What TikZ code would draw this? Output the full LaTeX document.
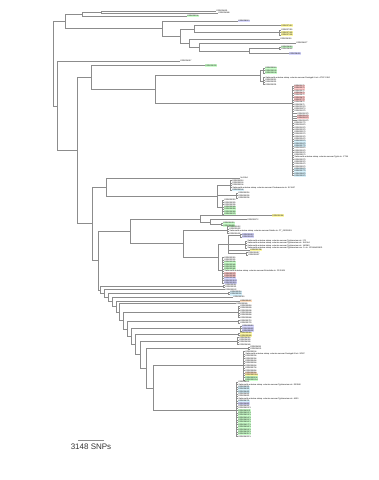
\documentclass[tikz,border=0pt]{standalone}
\usepackage{fontspec}
\setmainfont{Liberation Sans}
\begin{document}
\begin{tikzpicture}[x=1pt,y=-1pt,
  br/.style={draw=black!45,line width=0.5pt},
  lf/.style={anchor=west,inner sep=0.5pt,font=\fontsize{2}{2.2}\selectfont},
  pl/.style={},
  gn/.style={fill=green!20},
  bl/.style={fill=blue!15},
  yl/.style={fill=yellow!35},
  rd/.style={fill=red!20},
  cy/.style={fill=cyan!15},
  og/.style={fill=orange!25}]
\useasboundingbox (0,0) rectangle (379,480);
% root and upper clade
\coordinate (r) at (53,64);
\coordinate (t1) at (65,21.2);
\coordinate (t2) at (57,106.5);
\draw[br] (r) |- (t1); \draw[br] (r) |- (t2);
\coordinate (ta) at (82,14);
\coordinate (tb) at (162,28.4);
\draw[br] (t1) |- (ta); \draw[br] (t1) |- (tb);
\coordinate (tc) at (101,12);
\draw[br] (ta) |- (tc);
\node[lf] (l2) at (216,10.8) {ERR024631};
\node[lf] (l3) at (218,13.2) {ERR024588};
\draw[br] (tc) |- (l2.west); \draw[br] (tc) |- (l3.west);
\node[lf,gn] (l1) at (187,16) {ERR025104};
\draw[br] (ta) |- (l1.west);
\node[lf,bl] (l4) at (238,21) {ERR028113};
\draw[br] (tb) |- (l4.west);
\coordinate (td) at (180,35.9);
\draw[br] (tb) |- (td);
\coordinate (te) at (194,29);
\coordinate (tf) at (189,42.75);
\draw[br] (td) |- (te); \draw[br] (td) |- (tf);
\node[lf,yl] (l5) at (281,25.5) {ERR027412};
\draw[br] (te) |- (l5.west);
\coordinate (tg) at (279,32.5);
\draw[br] (te) |- (tg);
\foreach \y/\s [count=\i] in {30.2/pl,32.5/yl,34.8/yl}{
  \node[lf,\s] (tg\i) at (281,\y) {ERR0273\i5};
  \draw[br] (tg) |- (tg\i.west);}
\node[lf] (l6) at (280,39) {ERR026019};
\draw[br] (tf) |- (l6.west);
\coordinate (th) at (199,46.75);
\draw[br] (tf) |- (th);
\node[lf] (l7) at (296,43) {ERR026877};
\draw[br] (th) |- (l7.west);
\coordinate (ti) at (249,50.75);
\draw[br] (th) |- (ti);
\coordinate (tj) at (279,48);
\draw[br] (ti) |- (tj);
\foreach \y/\s [count=\i] in {46.9/gn,49.2/pl}{
  \node[lf,\s] (tj\i) at (281,\y) {ERR0269\i2};
  \draw[br] (tj) |- (tj\i.west);}
\node[lf,bl] (l8) at (289,53.5) {ERR028450};
\draw[br] (ti) |- (l8.west);
% lower clade
\node[lf] (l9) at (180,61) {ERR024917};
\draw[br] (t2) |- (l9.west);
\coordinate (u1) at (77,150.4);
\draw[br] (t2) |- (u1);
\coordinate (u2) at (91,77.6);
\coordinate (u3) at (92,223.5);
\draw[br] (u1) |- (u2); \draw[br] (u1) |- (u3);
\node[lf,gn] (l10) at (205,65.5) {ERR025233};
\draw[br] (u2) |- (l10.west);
\coordinate (u4) at (155,89.7);
\draw[br] (u2) |- (u4);
\coordinate (u5) at (260,75.7);
\coordinate (u6) at (292,103.7);
\draw[br] (u4) |- (u5); \draw[br] (u4) |- (u6);
\coordinate (u7) at (263,70.5);
\coordinate (u8) at (263,80.9);
\draw[br] (u5) |- (u7); \draw[br] (u5) |- (u8);
\foreach \y [count=\i] in {68.2,70.5,72.8}{
  \node[lf,gn] (u7\i) at (265,\y) {ERR0251\i8};
  \draw[br] (u7) |- (u7\i.west);}
\node[lf] (u81) at (265,77.5) {Salmonella enterica subsp. enterica serovar Paratyphi A str. ATCC 9150};
\draw[br] (u8) |- (u81.west);
\foreach \y [count=\i] in {79.8,82.1,84.4}{
  \node[lf] (u8\i x) at (265,\y) {ERR0252\i1};
  \draw[br] (u8) |- (u8\i x.west);}
% typhi comb
\foreach \x/\y/\s [count=\i] in {294/86/rd,294/88.3/rd,294/90.6/pl,294/92.9/rd,294/95.2/pl,
  294/97.5/rd,294/99.8/rd,294/102.1/pl,294/104.4/pl,294/106.7/pl,294/109/pl,294/111.3/pl,
  297/113.6/pl,297/115.9/rd,297/118.2/rd,297/120.5/pl,294/122.8/pl,294/125.1/pl,294/127.4/pl,
  294/129.7/pl,294/132/pl,294/134.3/pl,294/136.6/pl,294/138.9/pl,294/141.2/cy,294/143.5/cy,
  294/145.8/cy,294/148.1/pl,294/150.4/pl,294/152.7/pl,294/155/pl,294/159.6/pl,
  294/161.9/pl,294/164.2/pl,294/166.5/pl,294/168.8/cy,294/171.1/cy,294/173.4/cy,294/175.7/cy}{
  \node[lf,\s] (u6\i) at (\x,\y) {ERR02\i 73};
  \draw[br] (u6) |- (u6\i.west);}
\node[lf] (u6t) at (294,157.3) {Salmonella enterica subsp. enterica serovar Typhi str. CT18};
\draw[br] (u6) |- (u6t.west);
% middle clades
\coordinate (u9) at (106,187);
\coordinate (u10) at (98,260.4);
\draw[br] (u3) |- (u9); \draw[br] (u3) |- (u10);
\node[lf] (l11) at (240,178) {Ni-1094};
\draw[br] (u9) |- (l11.west);
\coordinate (u11) at (217,196);
\draw[br] (u9) |- (u11);
\coordinate (s1) at (230,185.2);
\coordinate (s2) at (236,195.5);
\coordinate (s3) at (222,207);
\draw[br] (u11) |- (s1); \draw[br] (u11) |- (s2); \draw[br] (u11) |- (s3);
\foreach \y/\s [count=\i] in {180.6/pl,182.9/pl,185.2/pl,189.8/cy}{
  \node[lf,\s] (s1\i) at (232,\y) {ERR0301\i4};
  \draw[br] (s1) |- (s1\i.west);}
\node[lf] (s1t) at (232,187.5) {Salmonella enterica subsp. enterica serovar Choleraesuis str. SC-B67};
\draw[br] (s1) |- (s1t.west);
\foreach \y [count=\i] in {193.2,195.5,197.8}{
  \node[lf] (s2\i) at (238,\y) {ERR0302\i6};
  \draw[br] (s2) |- (s2\i.west);}
\foreach \y/\s [count=\i] in {200.1/pl,202.4/pl,204.7/pl,207/gn,209.3/gn,211.6/gn,213.9/gn}{
  \node[lf,\s] (s3\i) at (224,\y) {ERR0303\i9};
  \draw[br] (s3) |- (s3\i.west);}
\coordinate (u12) at (130,231);
\coordinate (u13) at (100,289.8);
\draw[br] (u10) |- (u12); \draw[br] (u10) |- (u13);
\coordinate (u14) at (200,218.75);
\coordinate (u16) at (183,243.5);
\draw[br] (u12) |- (u14); \draw[br] (u12) |- (u16);
\node[lf,yl] (l12) at (272,215.5) {ERR031056};
\draw[br] (u14) |- (l12.west);
\coordinate (u15) at (210,222);
\draw[br] (u14) |- (u15);
\node[lf] (l13) at (247,219.5) {ERR031172};
\draw[br] (u15) |- (l13.west);
\coordinate (u17) at (221,224.5);
\draw[br] (u15) |- (u17);
\foreach \y [count=\i] in {223.3,225.6}{
  \node[lf,gn] (u17\i) at (223,\y) {ERR0312\i0};
  \draw[br] (u17) |- (u17\i.west);}
\coordinate (u18) at (227,229.9);
\coordinate (u19) at (218,257);
\draw[br] (u16) |- (u18); \draw[br] (u16) |- (u19);
\foreach \y [count=\i] in {226.5,228.8,233.4}{
  \node[lf] (u18\i) at (229,\y) {ERR0314\i2};
  \draw[br] (u18) |- (u18\i.west);}
\node[lf] (u18t) at (229,231.1) {Salmonella enterica subsp. enterica serovar Dublin str. CT\_02021853};
\draw[br] (u18) |- (u18t.west);
\coordinate (u20) at (228,244);
\coordinate (u21) at (222,270.15);
\draw[br] (u19) |- (u20); \draw[br] (u19) |- (u21);
\coordinate (v1) at (240,235.6);
\coordinate (v2) at (245,244.5);
\coordinate (v3) at (246,253.6);
\draw[br] (u20) |- (v1); \draw[br] (u20) |- (v2); \draw[br] (u20) |- (v3);
\foreach \y [count=\i] in {234.5,236.8}{
  \node[lf,bl] (v1\i) at (242,\y) {ERR0316\i3};
  \draw[br] (v1) |- (v1\i.west);}
\foreach \y/\t [count=\i] in {241/Typhimurium str. LT2,243.3/Typhimurium str. SL1344,
  245.6/Typhimurium str. 14028S,247.9/Typhimurium var. 5- str. CFSAN001921}{
  \node[lf] (v2\i) at (247,\y) {Salmonella enterica subsp. enterica serovar \t};
  \draw[br] (v2) |- (v2\i.west);}
\node[lf,yl] (l14) at (250,250.2) {ERR031788};
\draw[br] (u20) |- (l14.west);
\foreach \y [count=\i] in {252.5,254.8}{
  \node[lf] (v3\i) at (248,\y) {ERR0318\i7};
  \draw[br] (v3) |- (v3\i.west);}
\foreach \y/\s [count=\i] in {257.5/pl,259.8/pl,262.1/gn,264.4/gn,266.7/gn,269/gn,
  273.6/rd,275.9/rd,278.2/bl,280.5/bl,282.8/bl}{
  \node[lf,\s] (u21\i) at (224,\y) {ERR0320\i5};
  \draw[br] (u21) |- (u21\i.west);}
\node[lf] (u21t) at (224,271.3) {Salmonella enterica subsp. enterica serovar Enteritidis str. P125109};
\draw[br] (u21) |- (u21t.west);
% lower ladder
\coordinate (pb) at (104,293.5);
\coordinate (pc) at (108,297.4);
\coordinate (pd) at (112,301.7);
\coordinate (pe) at (116,306.5);
\coordinate (pf) at (119,312);
\coordinate (pg) at (123,320.4);
\coordinate (ph) at (127,329);
\coordinate (pi) at (131,336.5);
\coordinate (pj) at (135,344.4);
\coordinate (pk) at (140,354.6);
\coordinate (pl) at (146,368);
\coordinate (pm) at (153,388);
\draw[br] (u13) |- (pb); \draw[br] (pb) |- (pc); \draw[br] (pc) |- (pd);
\draw[br] (pd) |- (pe); \draw[br] (pe) |- (pf); \draw[br] (pf) |- (pg);
\draw[br] (pg) |- (ph); \draw[br] (ph) |- (pi); \draw[br] (pi) |- (pj);
\draw[br] (pj) |- (pk); \draw[br] (pk) |- (pl); \draw[br] (pl) |- (pm);
\coordinate (qa) at (223,286.15);
\draw[br] (u13) |- (qa);
\foreach \y [count=\i] in {285,287.3}{
  \node[lf] (qa\i) at (225,\y) {ERR0330\i1};
  \draw[br] (qa) |- (qa\i.west);}
\node[lf] (qb) at (225,289.6) {ERR033122};
\draw[br] (pb) |- (qb.west);
\coordinate (qc) at (228,293.15);
\draw[br] (pc) |- (qc);
\foreach \y [count=\i] in {292,294.3}{
  \node[lf,cy] (qc\i) at (230,\y) {ERR0332\i4};
  \draw[br] (qc) |- (qc\i.west);}
\node[lf] (qd) at (233,297) {ERR033310};
\draw[br] (pd) |- (qd.west);
\node[lf,og] (qe) at (240,301) {ERR033407};
\draw[br] (pe) |- (qe.west);
\node[lf] (qf) at (236,303.5) {ERR033569};
\draw[br] (pf) |- (qf.west);
\coordinate (qg) at (238,311.75);
\draw[br] (pg) |- (qg);
\foreach \y [count=\i] in {306,308.3,310.6,312.9,315.2,317.5}{
  \node[lf] (qg\i) at (240,\y) {ERR0336\i8};
  \draw[br] (qg) |- (qg\i.west);}
\coordinate (qh) at (238,321.65);
\draw[br] (ph) |- (qh);
\foreach \y [count=\i] in {320.5,322.8}{
  \node[lf] (qh\i) at (240,\y) {ERR0337\i3};
  \draw[br] (qh) |- (qh\i.west);}
\coordinate (qi) at (240,328.5);
\draw[br] (pi) |- (qi);
\foreach \y [count=\i] in {326.2,328.5,330.8}{
  \node[lf,bl] (qi\i) at (242,\y) {ERR0338\i2};
  \draw[br] (qi) |- (qi\i.west);}
\coordinate (qj) at (238,334.25);
\draw[br] (pj) |- (qj);
\foreach \y [count=\i] in {333.1,335.4}{
  \node[lf,yl] (qj\i) at (240,\y) {ERR0339\i6};
  \draw[br] (qj) |- (qj\i.west);}
\coordinate (qk) at (237,341.15);
\draw[br] (pk) |- (qk);
\foreach \y [count=\i] in {337.7,340,342.3,344.6}{
  \node[lf] (qk\i) at (239,\y) {ERR0340\i9};
  \draw[br] (qk) |- (qk\i.west);}
\coordinate (ql) at (248,348);
\draw[br] (pl) |- (ql);
\foreach \y [count=\i] in {346.9,349.2}{
  \node[lf] (ql\i) at (250,\y) {ERR0341\i1};
  \draw[br] (ql) |- (ql\i.west);}
\coordinate (qm) at (243,365.7);
\coordinate (qn) at (236,410);
\draw[br] (pm) |- (qm); \draw[br] (pm) |- (qn);
\foreach \y/\s [count=\i] in {351.5/pl,356.2/pl,358.6/pl,361/pl,363.3/pl,365.7/pl,368/pl,
  370.4/pl,372.8/og,375.1/yl,377.5/gn,379.8/gn}{
  \node[lf,\s] (qm\i) at (245,\y) {ERR035\i 04};
  \draw[br] (qm) |- (qm\i.west);}
\node[lf] (qmt) at (245,353.9) {Salmonella enterica subsp. enterica serovar Paratyphi B str. SPB7};
\draw[br] (qm) |- (qmt.west);
\foreach \y/\s [count=\i] in {382.2/pl,386.9/cy,389.2/cy,391.6/cy,394/pl,396.3/pl,
  401/cy,403.4/bl,405.8/pl,408.1/pl,410.5/gn,412.9/gn,415.2/gn,417.6/gn,420/gn,
  422.3/gn,424.7/gn,427/gn,429.4/gn,431.8/gn,434.1/gn,436.5/pl}{
  \node[lf,\s] (qn\i) at (238,\y) {ERR036\i 21};
  \draw[br] (qn) |- (qn\i.west);}
\node[lf] (qnt) at (238,384.5) {Salmonella enterica subsp. enterica serovar Typhimurium str. D23580};
\draw[br] (qn) |- (qnt.west);
\node[lf] (qnu) at (238,398.7) {Salmonella enterica subsp. enterica serovar Typhimurium str. A130};
\draw[br] (qn) |- (qnu.west);
% scale bar
\coordinate (sa) at (78,440);
\coordinate (sb) at (104,440);
\draw[br] (sa) -- (sb);
\node[font=\fontsize{8}{9}\selectfont,text=black!80] (snp) at (91,447) {3148 SNPs};
\end{tikzpicture}
\end{document}
